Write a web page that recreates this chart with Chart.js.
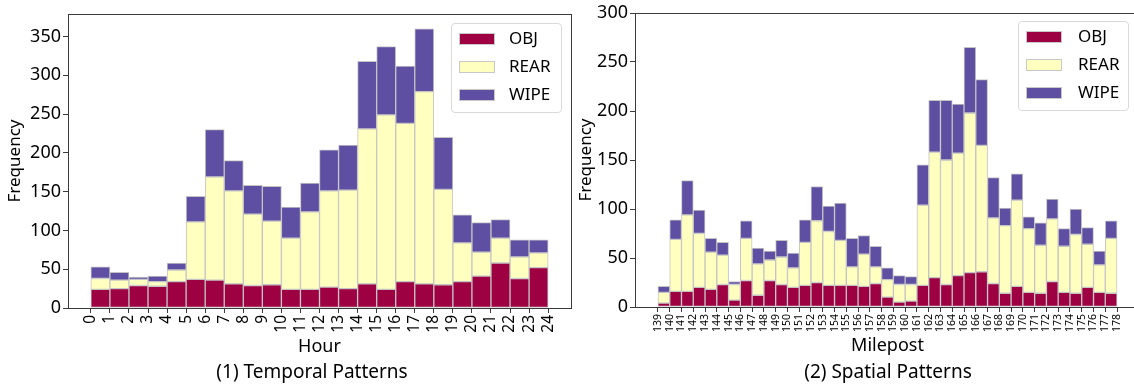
<!DOCTYPE html>
<html>
<head>
<meta charset="utf-8">
<script src="https://cdn.jsdelivr.net/npm/chart.js@4.4.1/dist/chart.umd.min.js"></script>
<style>
    html, body { margin: 0; padding: 0; width: 1134px; height: 385px; overflow: hidden; background: #fff; }
    body { position: relative; font-family: "Noto Sans", sans-serif; }
    canvas { position: absolute; top: 0; }
    .legend { position: absolute; width: 111px; height: 90px; border: 1px solid #d9d9d9; border-radius: 4px; background: rgba(255,255,255,0.85); box-sizing: border-box; }
    .legend .row { position: absolute; left: 0; height: 20px; width: 100%; }
    .legend .sw { position: absolute; left: 7px; top: 4px; width: 36px; height: 12px; box-sizing: border-box; border: 1px solid #c8c8c8; }
    .legend .txt { position: absolute; top: -2px; font-size: 17px; color: #000; line-height: 22px; }
    .caption { position: absolute; font-size: 19px; color: #000; transform: translateX(-50%); white-space: nowrap; line-height: 22px; }
</style>
</head>
<body>
<canvas id="chart_hour" width="580" height="385" style="left:0px;width:580px;height:385px"></canvas>
<canvas id="chart_mile" width="570" height="385" style="left:575px;width:570px;height:385px"></canvas>
<div class="caption" style="left:312px;top:360px">(1) Temporal Patterns</div>
<div class="caption" style="left:888px;top:360px">(2) Spatial Patterns</div>

<script>
// series names and colours (Spectral ends + middle)
var series_names = ["OBJ", "REAR", "WIPE"];
var series_colors = ["#9e0142", "#ffffbf", "#5e4fa2"];

// (1) hour of day, bins 0..23
var hour_bins = [0, 1, 2, 3, 4, 5, 6, 7, 8, 9, 10, 11, 12, 13, 14, 15, 16, 17, 18, 19, 20, 21, 22, 23];
var hour_ticks = [0, 1, 2, 3, 4, 5, 6, 7, 8, 9, 10, 11, 12, 13, 14, 15, 16, 17, 18, 19, 20, 21, 22, 23, 24];
var obj_hour = [24, 25, 29, 28, 34, 37, 36, 31, 29, 30, 24, 24, 27, 25, 31, 24, 34, 31, 30, 34, 41, 58, 38, 52];
var rear_hour = [14, 11, 8, 6, 15, 74, 133, 120, 92, 82, 66, 100, 124, 127, 200, 225, 204, 248, 123, 50, 31, 32, 28, 19];
var wipe_hour = [15, 10, 3, 7, 9, 33, 61, 39, 37, 45, 40, 37, 53, 58, 87, 88, 74, 81, 67, 36, 38, 24, 22, 17];
var freq_ticks_hour = [0, 50, 100, 150, 200, 250, 300, 350];

// (2) milepost, bins 139..177
var mile_bins = [139, 140, 141, 142, 143, 144, 145, 146, 147, 148, 149, 150, 151, 152, 153, 154, 155, 156, 157, 158,
    159, 160, 161, 162, 163, 164, 165, 166, 167, 168, 169, 170, 171, 172, 173, 174, 175, 176, 177];
var mile_ticks = mile_bins.concat([178]);
var obj_mile = [4, 16, 16, 20, 18, 23, 7, 27, 12, 27, 23, 20, 22, 25, 22, 22, 22, 21, 24, 10,
    5, 6, 22, 30, 23, 32, 35, 36, 24, 14, 21, 15, 14, 26, 15, 14, 20, 15, 14];
var rear_mile = [11, 53, 78, 55, 38, 30, 16, 43, 32, 21, 28, 20, 44, 63, 55, 46, 19, 33, 17, 18,
    18, 17, 82, 128, 127, 125, 163, 129, 67, 69, 88, 65, 49, 64, 47, 60, 44, 28, 56];
var wipe_mile = [6, 20, 35, 24, 14, 13, 3, 18, 16, 9, 17, 15, 23, 35, 26, 38, 29, 19, 21, 12,
    9, 8, 41, 53, 61, 50, 67, 67, 41, 18, 27, 12, 23, 20, 18, 26, 17, 14, 18];
var freq_ticks_mile = [0, 50, 100, 150, 200, 250, 300];

var font_family = "'Noto Sans', sans-serif";
var axis_color = "#3a3a3a";

// box around the plot area, like matplotlib spines
var frame_plugin = {
    id: "frame",
    afterDatasetsDraw: function (chart) {
        var a = chart.chartArea;
        var ctx = chart.ctx;
        ctx.save();
        ctx.strokeStyle = axis_color;
        ctx.lineWidth = 1;
        ctx.strokeRect(Math.round(a.left) + 0.5, Math.round(a.top) + 0.5,
            Math.round(a.right - a.left), Math.round(a.bottom - a.top));
        ctx.restore();
    },
};

function bars(bins, values, idx) {
    return {
        label: series_names[idx],
        data: bins.map(function (b, i) { return { x: b + 0.5, y: values[i] }; }),
        backgroundColor: series_colors[idx],
        borderColor: "#c4c4c4",
        borderWidth: 1,
        borderSkipped: false,
        barPercentage: 1,
        categoryPercentage: 1,
    };
}

function make_chart(id, o) {
    var ctx = document.getElementById(id);
    return new Chart(ctx, {
        type: "bar",
        data: {
            datasets: [
                bars(o.bins, o.obj, 0),
                bars(o.bins, o.rear, 1),
                bars(o.bins, o.wipe, 2),
            ],
        },
        plugins: [frame_plugin],
        options: {
            responsive: false,
            animation: false,
            layout: { padding: o.padding },
            plugins: { legend: { display: false }, tooltip: { enabled: false } },
            scales: {
                x: {
                    type: "linear",
                    stacked: true,
                    offset: false,
                    min: o.xmin,
                    max: o.xmax,
                    border: { display: false },
                    grid: { drawOnChartArea: false, drawTicks: true, tickLength: 5, color: axis_color, offset: false },
                    afterBuildTicks: function (s) { s.ticks = o.xticks.map(function (v) { return { value: v }; }); },
                    afterFit: function (s) { s.height = 52; },
                    ticks: {
                        autoSkip: false, minRotation: 90, maxRotation: 90, padding: 2, color: "#000",
                        font: { family: font_family, size: o.xtickSize },
                        callback: function (v) { return String(v); },
                    },
                    title: {
                        display: true, text: o.xtitle, color: "#000", padding: { top: 0, bottom: 2 },
                        font: { family: font_family, size: 18 },
                    },
                },
                y: {
                    stacked: true,
                    min: 0,
                    max: o.ymax,
                    border: { display: false },
                    grid: { drawOnChartArea: false, drawTicks: true, tickLength: 5, color: axis_color },
                    afterBuildTicks: function (s) { s.ticks = o.yticks.map(function (v) { return { value: v }; }); },
                    afterFit: function (s) { s.width = o.yWidth; },
                    ticks: { padding: 2, color: "#000", font: { family: font_family, size: 18 } },
                    title: {
                        display: true, text: "Frequency", color: "#000", padding: { top: o.ytitlePad, bottom: 0 },
                        font: { family: font_family, size: 17 },
                    },
                },
            },
        },
    });
}

make_chart("chart_hour", {
    bins: hour_bins, obj: obj_hour, rear: rear_hour, wipe: wipe_hour,
    xmin: -1.2, xmax: 25.2, xticks: hour_ticks, xtickSize: 15.5, xtitle: "Hour",
    ymax: 379, yticks: freq_ticks_hour, yWidth: 68, ytitlePad: 5,
    padding: { left: 0, top: 14, right: 9, bottom: 25 },
});

make_chart("chart_mile", {
    bins: mile_bins, obj: obj_mile, rear: rear_mile, wipe: wipe_mile,
    xmin: 137.05, xmax: 179.95, xticks: mile_ticks, xtickSize: 10.5, xtitle: "Milepost",
    ymax: 300, yticks: freq_ticks_mile, yWidth: 60, ytitlePad: 1,
    padding: { left: 0, top: 13, right: 5, bottom: 26 },
});

// legends inside the upper right of each plot
function make_legend(left, top, textLeft) {
    var box = document.createElement("div");
    box.className = "legend";
    box.style.left = left + "px";
    box.style.top = top + "px";
    series_names.forEach(function (name, i) {
        var row = document.createElement("div");
        row.className = "row";
        row.style.top = (5 + i * 28) + "px";
        var sw = document.createElement("div");
        sw.className = "sw";
        sw.style.background = series_colors[i];
        var txt = document.createElement("div");
        txt.className = "txt";
        txt.style.left = textLeft + "px";
        txt.textContent = name;
        row.appendChild(sw);
        row.appendChild(txt);
        box.appendChild(row);
    });
    document.body.appendChild(box);
}

make_legend(451, 23, 57);
make_legend(1018, 21, 59);
</script>
</body>
</html>
